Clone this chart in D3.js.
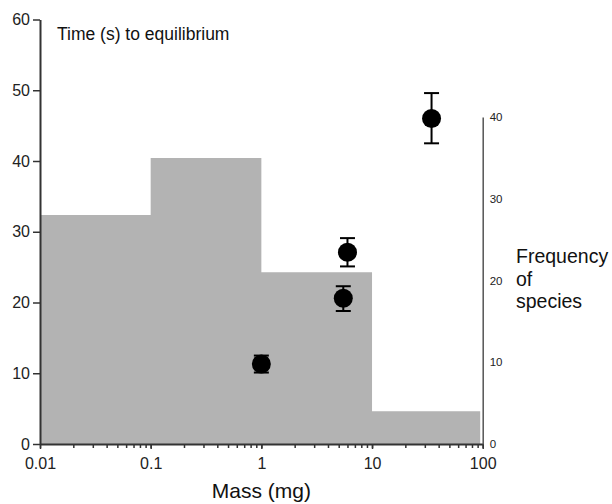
<!DOCTYPE html>
<html>
<head>
<meta charset="utf-8">
<script src="https://cdn.jsdelivr.net/npm/d3@7"></script>
<style>
  html, body { margin: 0; padding: 0; background: #fff; }
  text { font-family: "Liberation Sans", Arial, sans-serif; }
</style>
</head>
<body>
<svg id="chart" width="612" height="504"></svg>
<script>
// ---- data ----
const binEdges = [0.01, 0.1, 1, 10, 100];          // mass bins (mg)
const binFreq = [28, 35, 21, 4];                    // frequency of species
const pointMass = [1.0, 5.5, 6.0, 34.5];            // mass (mg)
const pointTime = [11.3, 20.6, 27.1, 46.0];         // time (s) to equilibrium
const pointLow = [10.1, 18.8, 25.1, 42.5];          // error bar low
const pointHigh = [12.5, 22.3, 29.1, 49.6];         // error bar high
const xTickValues = [0.01, 0.1, 1, 10, 100];
const xTickLabels = ["0.01", "0.1", "1", "10", "100"];
const yTickValues = [0, 10, 20, 30, 40, 50, 60];
const freqTickValues = [0, 10, 20, 30, 40];

const svg = d3.select("#chart");

const x = d3.scaleLog().domain([0.01, 100]).range([40, 482.7]);
const y = d3.scaleLinear().domain([0, 60]).range([444, 19.5]);
const yR = d3.scaleLinear().domain([0, 40]).range([444, 117]);

// histogram as a single stepped area
const steps = binEdges.map((e, i) => ({ e, f: binFreq[Math.min(i, binFreq.length - 1)] }));
svg.append("path")
  .datum(steps)
  .attr("d", d3.area().curve(d3.curveStepAfter)
    .x(d => Math.min(x(d.e), x(100) - 2.5)).y0(yR(0)).y1(d => yR(d.f)))
  .attr("fill", "#b3b3b3");

// x axis: minor ticks
const axisColor = "#333";
const minor = svg.append("g").attr("transform", `translate(0,${y(0)})`)
  .call(d3.axisBottom(x).tickValues(x.ticks()).tickSize(4).tickFormat(""));
minor.select(".domain").remove();
minor.selectAll("line").attr("stroke", axisColor).attr("stroke-width", 1.5);

// x axis: major
const xAxis = svg.append("g").attr("transform", `translate(0,${y(0)})`)
  .call(d3.axisBottom(x).tickValues(xTickValues).tickSize(5).tickSizeOuter(0).tickPadding(9)
    .tickFormat((d, i) => xTickLabels[i]));
xAxis.select(".domain").attr("stroke", axisColor).attr("stroke-width", 2);
xAxis.selectAll("line").attr("stroke", axisColor).attr("stroke-width", 1.5);
xAxis.selectAll("text").attr("font-size", 16).attr("fill", "#222")
  .attr("font-family", "'Liberation Sans', Arial, sans-serif");

// left axis
const yAxis = svg.append("g").attr("transform", `translate(${x(0.01)},0)`)
  .call(d3.axisLeft(y).tickValues(yTickValues).tickSize(7).tickSizeOuter(0).tickPadding(3));
yAxis.select(".domain").attr("stroke", axisColor).attr("stroke-width", 2);
yAxis.selectAll("line").attr("stroke", axisColor).attr("stroke-width", 1.5);
yAxis.selectAll("text").attr("font-size", 16).attr("fill", "#222")
  .attr("font-family", "'Liberation Sans', Arial, sans-serif");

// right axis
const rAxis = svg.append("g").attr("transform", `translate(${x(100)},0)`)
  .call(d3.axisRight(yR).tickValues(freqTickValues).tickSize(0).tickSizeOuter(0).tickPadding(7));
rAxis.select(".domain").attr("stroke", "#555").attr("stroke-width", 1.5);
rAxis.selectAll("text").attr("font-size", 11.5).attr("fill", "#222")
  .attr("font-family", "'Liberation Sans', Arial, sans-serif");

// error bars and points
const pts = pointMass.map((m, i) => ({ m, t: pointTime[i], lo: pointLow[i], hi: pointHigh[i] }));
const eg = svg.append("g").attr("stroke", "#000").attr("stroke-width", 2);
eg.selectAll("line.v").data(pts).join("line").attr("class", "v")
  .attr("x1", d => x(d.m)).attr("x2", d => x(d.m))
  .attr("y1", d => y(d.lo)).attr("y2", d => y(d.hi));
eg.selectAll("line.top").data(pts).join("line").attr("class", "top")
  .attr("x1", d => x(d.m) - 7.5).attr("x2", d => x(d.m) + 7.5)
  .attr("y1", d => y(d.hi)).attr("y2", d => y(d.hi));
eg.selectAll("line.bot").data(pts).join("line").attr("class", "bot")
  .attr("x1", d => x(d.m) - 7.5).attr("x2", d => x(d.m) + 7.5)
  .attr("y1", d => y(d.lo)).attr("y2", d => y(d.lo));
svg.append("g").selectAll("circle").data(pts).join("circle")
  .attr("cx", d => x(d.m)).attr("cy", d => y(d.t)).attr("r", 9.5).attr("fill", "#000");

// labels
svg.append("text").attr("x", 57).attr("y", 40).attr("font-size", 17.5).attr("fill", "#111")
  .text("Time (s) to equilibrium");
svg.append("text").attr("x", x(1)).attr("y", 498).attr("text-anchor", "middle")
  .attr("font-size", 21).attr("fill", "#111").text("Mass (mg)");
const fl = svg.append("text").attr("x", 516).attr("y", 263).attr("font-size", 19.5).attr("fill", "#111");
["Frequency", "of", "species"].forEach((s, i) => {
  fl.append("tspan").attr("x", 516).attr("dy", i === 0 ? 0 : 22.5).text(s);
});
</script>
</body>
</html>
